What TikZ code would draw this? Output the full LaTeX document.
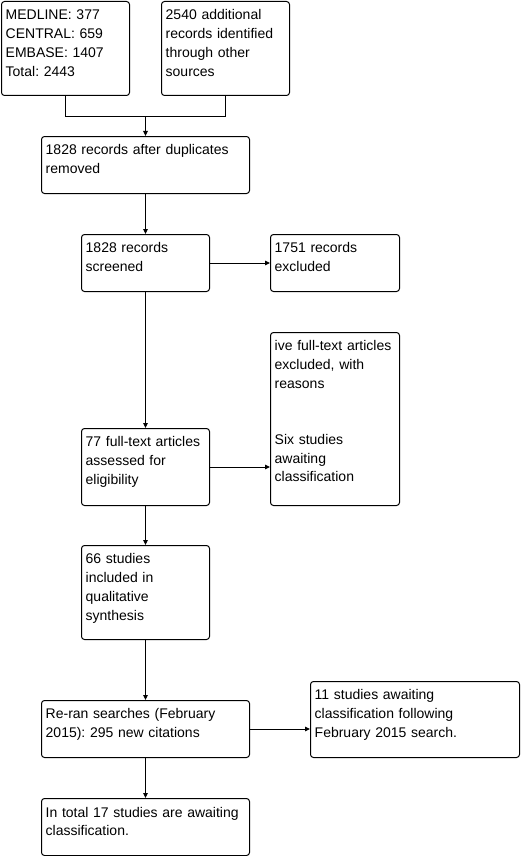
\documentclass[tikz,border=0pt]{standalone}
\usepackage{fontspec}
\setmainfont{Liberation Sans}
\frenchspacing
\usetikzlibrary{arrows.meta}
\tikzset{
  box/.style={draw=black, line width=1pt, rounded corners=3pt, inner sep=0pt, fill=white},
  txt/.style={anchor=north west, inner sep=0pt, align=left, font=\fontsize{14}{18.7}\selectfont\frenchspacing},
  arr/.style={line width=1pt, -{Triangle[length=5pt,width=4.5pt]}},
  ln/.style={line width=1pt}
}
% name, x, y, w, h, text
\newcommand{\flowbox}[6]{%
  \node[box, minimum width=#4pt, minimum height=#5pt] (#1) at ({#2+#4/2},{#3+#5/2}) {};
  \node[txt, text width={(#4-4)*1pt}] (#1t) at ([xshift=4.5pt,yshift=-5.7pt]#1.north west) {\strut #6};
}
\begin{document}
\begin{tikzpicture}[x=1pt,y=-1pt]
\useasboundingbox[fill=white] (0,0) rectangle (521,856);
\flowbox{b1}{1.5}{1.5}{128}{94}{MEDLINE: 377\\CENTRAL: 659\\EMBASE: 1407\\Total: 2443}
\flowbox{b2}{161.5}{1.5}{128}{94}{2540 additional\\records identified\\through other\\sources}
\flowbox{b3}{41.5}{136.5}{208}{57}{1828 records after duplicates\\removed}
\flowbox{b4}{81.5}{234.5}{128}{57}{1828 records\\screened}
\flowbox{b5}{270.5}{234.5}{129}{57}{1751 records\\excluded}
\flowbox{b6}{270.5}{332.5}{129}{173}{ive full-text articles\\excluded, with\\reasons\\\mbox{}\\\mbox{}\\Six studies\\awaiting\\classification}
\flowbox{b7}{81.5}{428.5}{128}{77}{77 full-text articles\\assessed for\\eligibility}
\flowbox{b8}{81.5}{545.5}{128}{94}{66 studies\\included in\\qualitative\\synthesis}
\flowbox{b9}{41.5}{700.5}{208}{57}{Re-ran searches (February\\2015): 295 new citations}
\flowbox{b10}{310.5}{681.5}{209}{76}{11 studies awaiting\\classification following\\February 2015 search.}
\flowbox{b11}{41.5}{798.5}{208}{57}{In total 17 studies are awaiting\\classification.}
\coordinate (m) at (145.5,116.5);
\draw[ln] (b1.south) |- (m) -| (b2.south);
\draw[arr] (m) -- (b3.north);
\draw[arr] (b3.south) -- (b4.north);
\draw[arr] (b4.east) -- (b5.west);
\draw[arr] (b4.south) -- (b7.north);
\draw[arr] (b7.east) -- (b7.east -| b6.west);
\draw[arr] (b7.south) -- (b8.north);
\draw[arr] (b8.south) -- (b9.north);
\draw[arr] (b9.east) -- (b9.east -| b10.west);
\draw[arr] (b9.south) -- (b11.north);
\end{tikzpicture}
\end{document}
